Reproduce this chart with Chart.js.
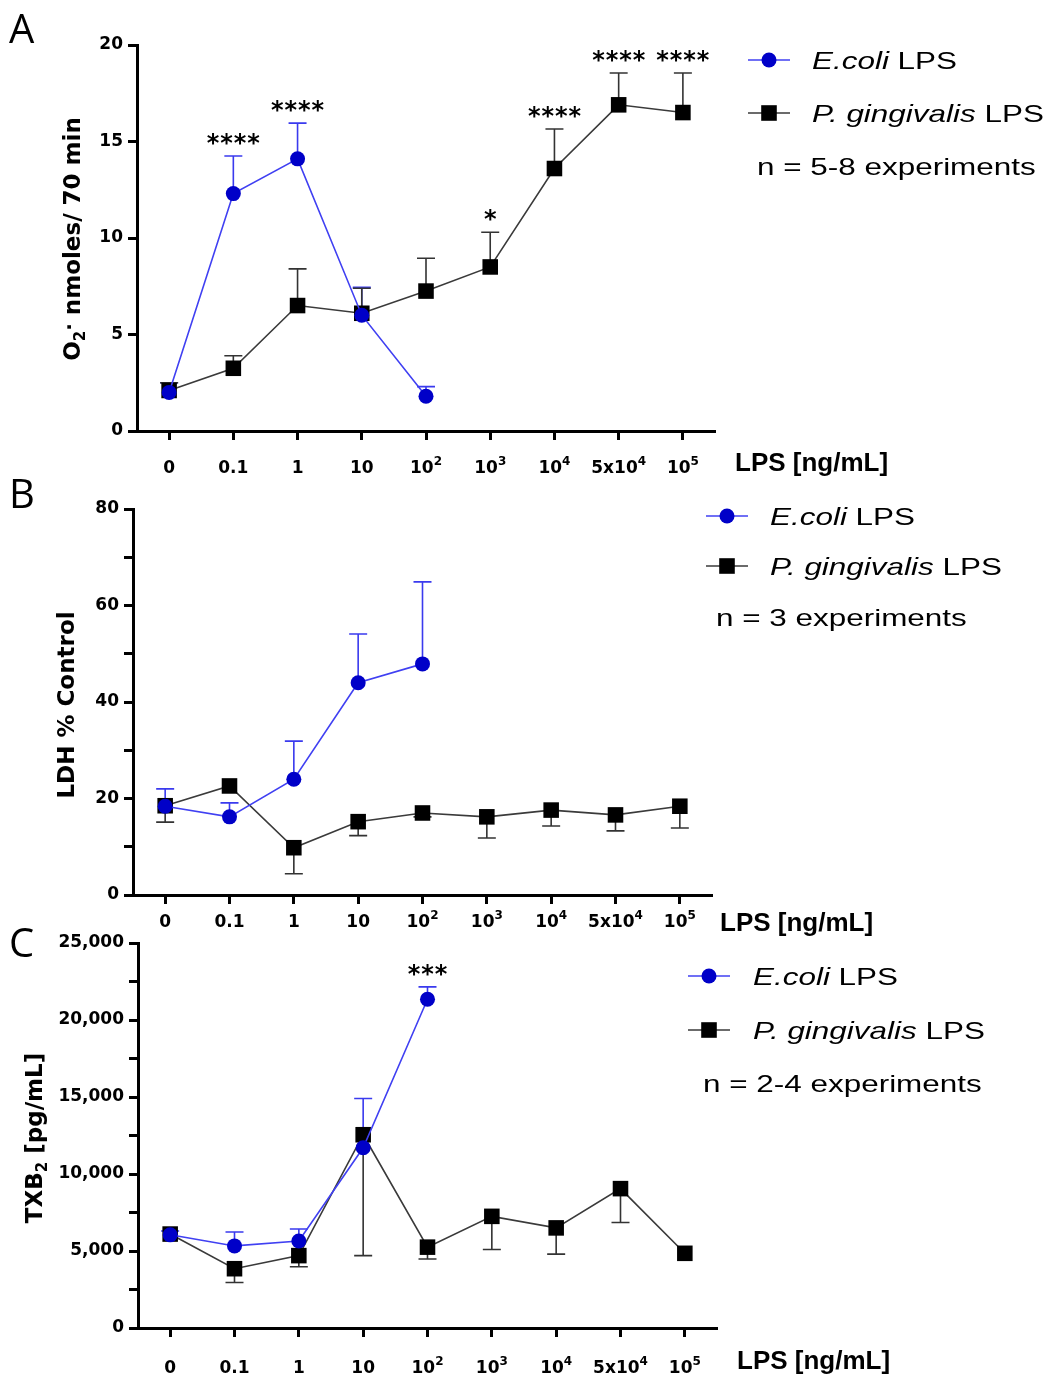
<!DOCTYPE html>
<html>
<head>
<meta charset="utf-8">
<script src="https://cdn.jsdelivr.net/npm/chart.js@4.4.1/dist/chart.umd.min.js"></script>
<style>
  body { margin: 0; background: #fff; }
  #wrap { position: relative; width: 1054px; height: 1378px; }
  #wrap canvas { position: absolute; left: 0; top: 0; }
</style>
</head>
<body>
<div id="wrap">
  <canvas id="chartA" width="1054" height="1378"></canvas>
  <canvas id="chartB" width="1054" height="1378"></canvas>
  <canvas id="chartC" width="1054" height="1378"></canvas>
</div>
<script>
// ---- data ----
const doseLabels = ['0', '0.1', '1', '10', '10^2', '10^3', '10^4', '5x10^4', '10^5'];

// A: superoxide (nmoles / 70 min)
const supEcoli    = [2.0, 12.3, 14.1, 6.0, 1.8, null, null, null, null];
const supEcoliErr = [0.5, 1.95, 1.85, 1.45, 0.5, null, null, null, null];
const supPging    = [2.1, 3.25, 6.5, 6.1, 7.25, 8.5, 13.6, 16.9, 16.5];
const supPgingErr = [0.4, 0.65, 1.9, 1.3, 1.7, 1.8, 2.05, 1.65, 2.05];
const supStars    = ['', '****', '****', '', '', '*', '****', '****', '****'];
const supTicks    = [0, 5, 10, 15, 20];

// B: LDH % control
const ldhEcoli    = [18.4, 16.2, 24.0, 44.0, 47.9, null, null, null, null];
const ldhEcoliErr = [3.6, 2.9, 7.9, 10.1, 17.0, null, null, null, null];
const ldhPging    = [18.5, 22.6, 9.8, 15.2, 17.0, 16.2, 17.6, 16.6, 18.4];
const ldhPgingErr = [3.4, 0, 5.4, 2.9, 0.8, 4.4, 3.3, 3.3, 4.5];
const ldhTicks    = [0, 20, 40, 60, 80];

// C: TXB2 (pg/mL)
const txbEcoli    = [6050, 5330, 5650, 11700, 21350, null, null, null, null];
const txbEcoliErr = [250, 900, 780, 3200, 800, null, null, null, null];
const txbPging    = [6100, 3850, 4700, 12550, 5250, 7250, 6500, 9050, 4850];
const txbPgingErr = [0, 900, 720, 7850, 770, 2150, 1700, 2200, 0];
const txbStars    = ['', '', '', '', '***', '', '', '', ''];
const txbTicks    = [0, 5000, 10000, 15000, 20000, 25000];

// ---- styles ----
const W = 1054, H = 1378, XAXIS_H = 40;
const BLUE_LINE = '#4040f2', BLUE_MARK = '#0000c8', BLUE_ERR = '#3a3aee';
const GREY_LINE = '#3a3a3a', GREY_ERR = '#333';
const TICK_FONT = 'bold 17px "DejaVu Sans"';
const SUP_FONT = 'bold 12px "DejaVu Sans"';
const TITLE_FONT = 'bold 23px "DejaVu Sans"';
const TITLE_SUB = 'bold 15px "DejaVu Sans"';
const LEG_FONT = '24px "Liberation Sans"';
const LEG_ITALIC = 'italic 24px "Liberation Sans"';
const LEG_STRETCH = 1.31;

Chart.defaults.font.family = 'DejaVu Sans';

function richWidth(ctx, parts) {
  let w = 0;
  parts.forEach(p => { ctx.font = p.font; w += ctx.measureText(p.t).width; });
  return w;
}
function drawRich(ctx, parts, x, y) {
  parts.forEach(p => {
    ctx.font = p.font;
    ctx.fillText(p.t, x, y + (p.dy || 0));
    x += ctx.measureText(p.t).width;
  });
}
function tickParts(lbl) {
  const m = lbl.split('^');
  const parts = [{ t: m[0], font: TICK_FONT }];
  if (m[1]) parts.push({ t: m[1], font: SUP_FONT, dy: -8 });
  return parts;
}

function decor(cfg) {
  return {
    id: 'decor' + cfg.letter,
    beforeDatasetsDraw(chart) {
      const ctx = chart.ctx, ys = chart.scales.y;
      ctx.save();
      cfg.errs.forEach(([d, errs, dir, col]) => {
        const meta = chart.getDatasetMeta(d);
        const vals = chart.data.datasets[d].data;
        meta.data.forEach((pt, i) => {
          const v = vals[i], e = errs[i];
          if (v == null || !e) return;
          const yEnd = ys.getPixelForValue(v + dir * e);
          ctx.strokeStyle = col;
          ctx.lineWidth = 1.6;
          ctx.beginPath();
          ctx.moveTo(pt.x, pt.y); ctx.lineTo(pt.x, yEnd);
          ctx.moveTo(pt.x - 9, yEnd); ctx.lineTo(pt.x + 9, yEnd);
          ctx.stroke();
        });
      });
      ctx.restore();
    },
    afterDraw(chart) {
      const ctx = chart.ctx, xs = chart.scales.x, ys = chart.scales.y;
      ctx.save();
      ctx.fillStyle = '#000';
      ctx.textBaseline = 'alphabetic';

      // panel letter
      ctx.font = '40px "Open Sans"';
      ctx.fillText(cfg.letter, 9, cfg.letterY);

      // x tick labels
      doseLabels.forEach((lbl, i) => {
        const parts = tickParts(lbl);
        const x = xs.getPixelForTick(i);
        drawRich(ctx, parts, x - richWidth(ctx, parts) / 2, cfg.tickBase);
      });
      ctx.font = 'bold 26px "Liberation Sans"';
      ctx.fillText('LPS [ng/mL]', cfg.lpsX, cfg.lpsY);

      // y title (rotated)
      ctx.save();
      ctx.translate(cfg.yTitleX, cfg.yTitleY);
      ctx.rotate(-Math.PI / 2);
      drawRich(ctx, cfg.yTitle, -richWidth(ctx, cfg.yTitle) / 2, 0);
      ctx.restore();

      // significance stars
      if (cfg.stars) {
        ctx.font = 'bold 24px "DejaVu Sans"';
        ctx.textAlign = 'center';
        cfg.stars.forEach((s, i) => {
          if (!s) return;
          let top = Infinity;
          cfg.errs.forEach(([d, errs, dir]) => {
            const v = chart.data.datasets[d].data[i];
            if (v == null) return;
            const e = dir > 0 ? (errs[i] || 0) : 0;
            top = Math.min(top, ys.getPixelForValue(v + e));
          });
          const x = xs.getPixelForTick(i);
          for (let k = 0; k < s.length; k++) {
            ctx.fillText('*', x + (k - (s.length - 1) / 2) * 13.5, top - 5);
          }
        });
        ctx.textAlign = 'left';
      }

      // legend
      const L = cfg.legend;
      const rows = [
        [L.y1, chart.data.datasets[0].label, BLUE_LINE, 'circle'],
        [L.y2, chart.data.datasets[1].label, GREY_LINE, 'rect']
      ];
      rows.forEach(([y, label, col, shape]) => {
        ctx.strokeStyle = col;
        ctx.lineWidth = 1.6;
        ctx.beginPath(); ctx.moveTo(L.x0, y); ctx.lineTo(L.x1, y); ctx.stroke();
        const cx = (L.x0 + L.x1) / 2;
        ctx.beginPath();
        if (shape === 'circle') {
          ctx.fillStyle = BLUE_MARK;
          ctx.arc(cx, y, 7.5, 0, Math.PI * 2);
        } else {
          ctx.fillStyle = '#000';
          ctx.rect(cx - 7.8, y - 7.8, 15.6, 15.6);
        }
        ctx.fill();
        ctx.fillStyle = '#000';
        const name = label.replace(' LPS', '');
        ctx.save();
        ctx.translate(L.tx, y + 8.5);
        ctx.scale(LEG_STRETCH, 1);
        drawRich(ctx, [{ t: name, font: LEG_ITALIC }, { t: ' LPS', font: LEG_FONT }], 0, 0);
        ctx.restore();
      });
      ctx.save();
      ctx.translate(L.nx, L.ny + 8.5);
      ctx.scale(LEG_STRETCH, 1);
      ctx.font = LEG_FONT;
      ctx.fillText(L.nText, 0, 0);
      ctx.restore();

      ctx.restore();
    }
  };
}

function makeChart(id, cfg) {
  const a = cfg.area;
  return new Chart(document.getElementById(id), {
    type: 'line',
    data: {
      labels: doseLabels,
      datasets: [
        {
          label: 'E.coli LPS', data: cfg.ecoli,
          borderColor: BLUE_LINE, borderWidth: 1.6, tension: 0, fill: false,
          pointStyle: 'circle', pointRadius: 7.5,
          pointBackgroundColor: BLUE_MARK, pointBorderColor: BLUE_MARK, pointBorderWidth: 0
        },
        {
          label: 'P. gingivalis LPS', data: cfg.pging,
          borderColor: GREY_LINE, borderWidth: 1.6, tension: 0, fill: false,
          pointStyle: 'rect', pointRadius: 11,
          pointBackgroundColor: '#000', pointBorderColor: '#000', pointBorderWidth: 0
        }
      ]
    },
    options: {
      responsive: false,
      animation: false,
      events: [],
      layout: { padding: { left: 0, top: a.top, right: W - a.right, bottom: H - a.bottom - XAXIS_H } },
      plugins: { legend: { display: false }, tooltip: { enabled: false } },
      scales: {
        x: {
          type: 'category', offset: true,
          grid: { drawOnChartArea: false, tickLength: 9, tickWidth: 3, tickColor: '#000' },
          border: { width: 3, color: '#000' },
          ticks: { display: false },
          afterFit: s => { s.height = XAXIS_H; }
        },
        y: {
          min: cfg.yTicks[0], max: cfg.yTicks[cfg.yTicks.length - 1],
          ticks: {
            stepSize: cfg.yStep, autoSkip: false, padding: 5, color: '#000',
            font: { family: 'DejaVu Sans', weight: 'bold', size: 17 },
            callback: v => cfg.yTicks.includes(v) ? v.toLocaleString('en-US') : ''
          },
          grid: { drawOnChartArea: false, tickLength: 9, tickWidth: 3, tickColor: '#000' },
          border: { width: 3, color: '#000' },
          afterFit: s => { s.width = a.left; }
        }
      }
    },
    plugins: [decor(cfg)]
  });
}

makeChart('chartA', {
  letter: 'A', letterY: 43,
  area: { left: 137, top: 45, right: 715, bottom: 431 },
  ecoli: supEcoli, pging: supPging,
  errs: [[0, supEcoliErr, 1, BLUE_ERR], [1, supPgingErr, 1, GREY_ERR]],
  yTicks: supTicks, yStep: 5,
  stars: supStars,
  tickBase: 473, lpsX: 735, lpsY: 471,
  yTitleX: 80, yTitleY: 239,
  yTitle: [
    { t: 'O', font: TITLE_FONT },
    { t: '2', font: TITLE_SUB, dy: 5 },
    { t: '\u00B7', font: 'bold 20px "DejaVu Sans"', dy: -4 },
    { t: ' nmoles/ 70 min', font: TITLE_FONT }
  ],
  legend: { x0: 748, x1: 790, tx: 812, y1: 60, y2: 113, nx: 757, ny: 166, nText: 'n = 5-8 experiments' }
});

makeChart('chartB', {
  letter: 'B', letterY: 508,
  area: { left: 133, top: 509, right: 712, bottom: 895 },
  ecoli: ldhEcoli, pging: ldhPging,
  errs: [[0, ldhEcoliErr, 1, BLUE_ERR], [1, ldhPgingErr, -1, GREY_ERR]],
  yTicks: ldhTicks, yStep: 10,
  stars: null,
  tickBase: 927, lpsX: 720, lpsY: 931,
  yTitleX: 74, yTitleY: 705,
  yTitle: [{ t: 'LDH % Control', font: TITLE_FONT }],
  legend: { x0: 706, x1: 748, tx: 770, y1: 516, y2: 566, nx: 716, ny: 617, nText: 'n = 3 experiments' }
});

makeChart('chartC', {
  letter: 'C', letterY: 957,
  area: { left: 138, top: 943, right: 717, bottom: 1328 },
  ecoli: txbEcoli, pging: txbPging,
  errs: [[0, txbEcoliErr, 1, BLUE_ERR], [1, txbPgingErr, -1, GREY_ERR]],
  yTicks: txbTicks, yStep: 2500,
  stars: txbStars,
  tickBase: 1373, lpsX: 737, lpsY: 1369,
  yTitleX: 42, yTitleY: 1138,
  yTitle: [
    { t: 'TXB', font: TITLE_FONT },
    { t: '2', font: TITLE_SUB, dy: 5 },
    { t: ' [pg/mL]', font: TITLE_FONT }
  ],
  legend: { x0: 688, x1: 730, tx: 753, y1: 976, y2: 1030, nx: 703, ny: 1083, nText: 'n = 2-4 experiments' }
});
</script>
</body>
</html>
